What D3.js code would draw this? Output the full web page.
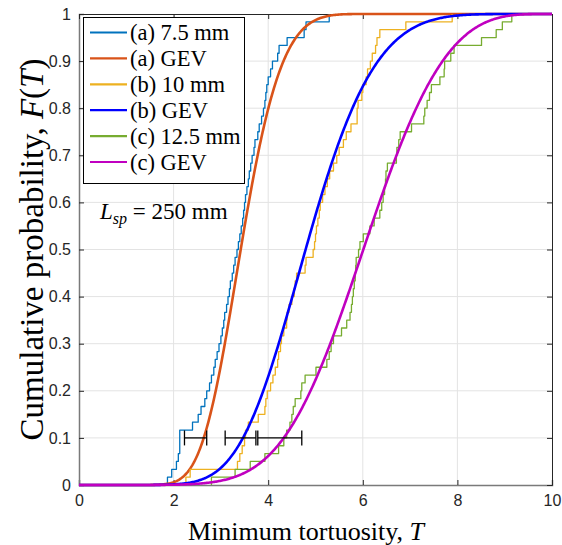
<!DOCTYPE html>
<html>
<head>
<meta charset="utf-8">
<script src="https://cdn.jsdelivr.net/npm/d3@7"></script>
<style>
  html, body { margin: 0; padding: 0; background: #fff; }
  svg { display: block; }
  .tick text { font-family: "Liberation Sans", Arial, sans-serif; }
</style>
</head>
<body>
<svg id="chart" width="562" height="545"></svg>
<script>
// Sorted minimum-tortuosity samples (n = 60 each) for the three mesh sizes
const samplesA = [1.87, 1.96, 2.06, 2.10, 2.13, 2.13, 2.13, 2.40, 2.52, 2.58,
  2.66, 2.70, 2.76, 2.80, 2.85, 2.88, 2.92, 2.96, 3.00, 3.03,
  3.06, 3.08, 3.12, 3.15, 3.18, 3.20, 3.24, 3.27, 3.30, 3.34,
  3.37, 3.40, 3.43, 3.46, 3.48, 3.50, 3.52, 3.55, 3.58, 3.60,
  3.63, 3.66, 3.70, 3.72, 3.78, 3.81, 3.86, 3.90, 3.93, 3.95,
  3.97, 4.00, 4.05, 4.09, 4.20, 4.23, 4.40, 4.76, 4.80, 5.29];
const samplesB = [2.26, 2.35, 3.35, 3.40, 3.45, 3.50, 3.52, 3.58, 3.79, 3.93,
  3.95, 3.98, 4.05, 4.10, 4.15, 4.20, 4.22, 4.26, 4.28, 4.33,
  4.39, 4.40, 4.44, 4.50, 4.55, 4.57, 4.60, 4.78, 4.80, 4.95,
  4.98, 5.00, 5.02, 5.05, 5.08, 5.10, 5.15, 5.20, 5.25, 5.30,
  5.38, 5.45, 5.50, 5.59, 5.65, 5.75, 5.88, 5.88, 5.90, 5.98,
  6.00, 6.07, 6.10, 6.16, 6.20, 6.27, 6.30, 6.36, 6.91, 7.89];
const samplesC = [2.80, 3.30, 3.62, 3.93, 4.22, 4.33, 4.39, 4.46, 4.50, 4.53,
  4.57, 4.69, 4.71, 4.78, 5.01, 5.24, 5.29, 5.33, 5.38, 5.55,
  5.66, 5.73, 5.76, 5.78, 5.80, 5.82, 5.84, 5.85, 5.86, 5.91,
  5.94, 6.01, 6.15, 6.24, 6.36, 6.40, 6.43, 6.46, 6.48, 6.49,
  6.52, 6.71, 6.72, 6.76, 6.79, 7.03, 7.29, 7.31, 7.36, 7.41,
  7.45, 7.63, 7.72, 7.73, 7.86, 7.93, 8.51, 8.82, 8.95, 9.15];

// Fitted GEV parameters [mu, sigma, xi] for (a), (b), (c)
const gevA = [3.20, 0.62, -0.20];
const gevB = [4.42, 1.05, -0.20];
const gevC = [5.56, 1.30, -0.30];

// Confidence intervals drawn at F(T) = 0.1
const ciLevel = 0.1;
const ciBounds = [[2.23, 2.70], [3.09, 3.74], [3.78, 4.71]];

const legendLabels = ["(a) 7.5 mm", "(a) GEV", "(b) 10 mm", "(b) GEV", "(c) 12.5 mm", "(c) GEV"];
const colors = ["#0072BD", "#D95319", "#EDB120", "#0000FF", "#77AC30", "#C000C0"];
const xTicks = [0, 2, 4, 6, 8, 10];
const yTicks = [0, 0.1, 0.2, 0.3, 0.4, 0.5, 0.6, 0.7, 0.8, 0.9, 1];

const svg = d3.select("#chart");
const pL = 79, pR = 552, pT = 14, pB = 485;
const x = d3.scaleLinear().domain([0, 10]).range([pL, pR]);
const y = d3.scaleLinear().domain([0, 1]).range([pB, pT]);

// Grid
const grid = svg.append("g").attr("stroke", "#e3e3e3").attr("stroke-width", 1);
xTicks.slice(1, -1).forEach(t => grid.append("line")
  .attr("x1", x(t)).attr("x2", x(t)).attr("y1", pT).attr("y2", pB));
yTicks.slice(1, -1).forEach(t => grid.append("line")
  .attr("x1", pL).attr("x2", pR).attr("y1", y(t)).attr("y2", y(t)));

// Axes (ticks pointing inward, box on all sides)
const axisColor = "#262626";
const fmtY = d => d === 0 ? "0" : d === 1 ? "1" : d3.format(".1f")(d);
const gx = svg.append("g").attr("transform", `translate(0,${pB})`)
  .call(d3.axisBottom(x).tickValues(xTicks).tickSize(-5).tickPadding(10).tickFormat(d3.format("d")));
const gy = svg.append("g").attr("transform", `translate(${pL},0)`)
  .call(d3.axisLeft(y).tickValues(yTicks).tickSize(-5).tickPadding(8).tickFormat(fmtY));
const gxt = svg.append("g").attr("transform", `translate(0,${pT})`)
  .call(d3.axisTop(x).tickValues(xTicks).tickSize(-5).tickFormat(""));
const gyr = svg.append("g").attr("transform", `translate(${pR},0)`)
  .call(d3.axisRight(y).tickValues(yTicks).tickSize(-5).tickFormat(""));
[gx, gy, gxt, gyr].forEach(g => {
  g.select(".domain").attr("stroke", axisColor).attr("stroke-width", 1);
  g.selectAll(".tick line").attr("stroke", axisColor);
  g.selectAll(".tick text").attr("fill", "#262626").attr("font-size", 16);
});
[gx, gy].forEach(g => g.select(".domain").attr("stroke", "#7a7a7a").attr("stroke-width", 1.5));

// Empirical CDF as a stairs path
function ecdfPoints(s) {
  const n = s.length, pts = [[s[0], 0]];
  s.forEach((v, i) => { pts.push([v, i / n]); pts.push([v, (i + 1) / n]); });
  return pts;
}
// GEV cumulative distribution
function gevCdf(t, p) {
  const [mu, sigma, xi] = p;
  const z = 1 + xi * (t - mu) / sigma;
  if (z <= 0) return xi < 0 ? 1 : 0;
  return Math.exp(-Math.pow(z, -1 / xi));
}
const tGrid = d3.range(0, 10.0001, 0.02);
const line = d3.line().x(d => x(d[0])).y(d => y(d[1]));

const plot = svg.append("g");
const series = [
  { pts: ecdfPoints(samplesA), w: 1.3 },
  { pts: tGrid.map(t => [t, gevCdf(t, gevA)]), w: 2.6 },
  { pts: ecdfPoints(samplesB), w: 1.3 },
  { pts: tGrid.map(t => [t, gevCdf(t, gevB)]), w: 2.6 },
  { pts: ecdfPoints(samplesC), w: 1.3 },
  { pts: tGrid.map(t => [t, gevCdf(t, gevC)]), w: 2.6 }
];
series.forEach((s, i) => plot.append("path")
  .attr("d", line(s.pts)).attr("fill", "none")
  .attr("stroke", colors[i]).attr("stroke-width", s.w)
  .attr("stroke-linejoin", "round"));

// Error bars at F = 0.1
const ebar = svg.append("g").attr("stroke", "#000").attr("stroke-width", 1.3);
ciBounds.forEach(([a, b]) => {
  ebar.append("line").attr("x1", x(a)).attr("x2", x(b)).attr("y1", y(ciLevel)).attr("y2", y(ciLevel));
  [a, b].forEach(v => ebar.append("line").attr("x1", x(v)).attr("x2", x(v))
    .attr("y1", y(ciLevel) - 7.5).attr("y2", y(ciLevel) + 7.5));
});

// Legend
const serif = "'Liberation Serif', 'Times New Roman', serif";
const lg = svg.append("g");
lg.append("rect").attr("x", 83.5).attr("y", 17.5).attr("width", 161).attr("height", 166)
  .attr("fill", "#fff").attr("stroke", "#000").attr("stroke-width", 1);
legendLabels.forEach((lab, i) => {
  const cy = 32.5 + i * 25.9;
  lg.append("line").attr("x1", 90).attr("x2", 127).attr("y1", cy).attr("y2", cy)
    .attr("stroke", colors[i]).attr("stroke-width", 2.2);
  lg.append("text").attr("x", 130).attr("y", cy + 7.5).text(lab)
    .attr("font-family", serif).attr("font-size", 22.5).attr("fill", "#000");
});

// Specimen length annotation
const ann = svg.append("text").attr("x", 100).attr("y", 219)
  .attr("font-family", serif).attr("font-size", 23).attr("fill", "#000");
ann.append("tspan").attr("font-style", "italic").text("L");
ann.append("tspan").attr("font-style", "italic").attr("font-size", 16).attr("dy", 5).text("sp");
ann.append("tspan").attr("dy", -5).text(" = 250 mm");

// Axis titles
const xt = svg.append("text").attr("x", 306).attr("y", 540)
  .attr("text-anchor", "middle").attr("font-family", serif).attr("font-size", 26).attr("fill", "#000");
xt.append("tspan").text("Minimum tortuosity, ");
xt.append("tspan").attr("font-style", "italic").text("T");

const yt = svg.append("text").attr("transform", `translate(43,${(pT + pB) / 2}) rotate(-90)`)
  .attr("text-anchor", "middle").attr("font-family", serif).attr("font-size", 33).attr("fill", "#000");
yt.append("tspan").text("Cumulative probability, ");
yt.append("tspan").attr("font-style", "italic").text("F");
yt.append("tspan").text("(");
yt.append("tspan").attr("font-style", "italic").text("T");
yt.append("tspan").text(")");
</script>
</body>
</html>
